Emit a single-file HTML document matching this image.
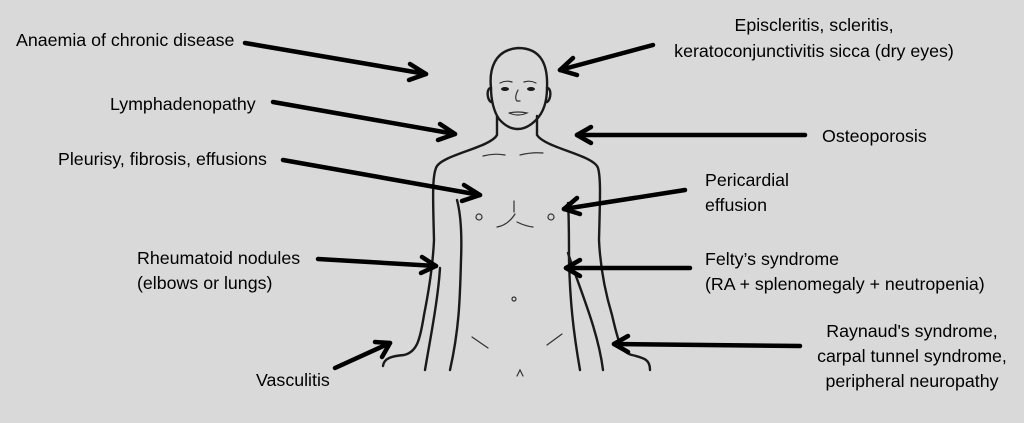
<!DOCTYPE html>
<html><head><meta charset="utf-8"><style>
html,body{margin:0;padding:0;background:#d9d9d9;}
svg{display:block}
text{font-family:"Liberation Sans",sans-serif;font-size:17.8px;fill:#000;}
</style></head><body>
<svg width="1024" height="423" viewBox="0 0 1024 423" xmlns="http://www.w3.org/2000/svg">
<rect width="1024" height="423" fill="#d9d9d9"/>
<g fill="none" stroke="#1a1a1a" stroke-width="2.4" stroke-linecap="round" stroke-linejoin="round">
<path d="M491,88 C489,70 494,50 518,48 C542,48 548,66 547,88 C547,100 544,112 536,120 C530,126 524,129 518,129 C511,129 505,126 499,119 C494,112 491,100 491,88"/>
<path d="M491,88 C486,88 487,100 491,102"/>
<path d="M547,88 C552,88 551,100 547,102"/>
<path d="M497,116 L497,135 C490,148 440,155 436,168 C432,178 433,200 434,240 C433,262 430,285 424,315 C420,340 417,352 404,355 C392,356 384,358 383,366"/>
<path d="M457,200 C461,215 462,235 461,260 C460,300 459,330 450,370"/>
<path d="M440,268 C438,300 430,340 425,370"/>
<path d="M537,116 L537,135 C545,148 594,155 598,168 C601,178 600,200 599,240 C600,262 603,285 612,315 C618,340 620,352 632,355 C645,358 650,360 650,370"/>
<path d="M568,203 C569,215 569,235 569,260 C570,300 573,330 580,370"/>
<path d="M568,253 C580,290 598,330 603,370"/>
</g>
<g fill="none" stroke="#333" stroke-width="1.2" stroke-linecap="round">
<path d="M483,156 Q494,153 505,155"/>
<path d="M520,155 Q532,152 543,153"/>
<path d="M514,201 L514,212"/>
<path d="M497,227 Q508,225 515,214"/>
<path d="M517,222 Q525,226 533,227"/>
<circle cx="479" cy="217" r="3"/>
<circle cx="551" cy="217" r="3"/>
<circle cx="514" cy="299" r="2"/>
<path d="M472,337 L488,348"/>
<path d="M562,334 L547,345"/>
<path d="M517,376 L520,370 L523,376"/>
<path d="M500,83 Q506,80 512,82"/>
<path d="M524,82 Q530,80 536,83"/>
<path d="M518,90 Q514,98 517,101 L520,101"/>
<path d="M509,113 Q518,111 527,113 Q518,117 509,113"/>
</g>
<ellipse cx="505" cy="89" rx="4" ry="2" fill="#1a1a1a"/>
<ellipse cx="531" cy="89" rx="4" ry="2" fill="#1a1a1a"/>
<g fill="none" stroke="#000" stroke-width="4.5" stroke-linecap="round" stroke-linejoin="round">
<path d="M245,43 L426,74"/><path d="M410,64 L426,74 L409,80"/>
<path d="M653,45 L560,70"/><path d="M573,58 L560,70 L577,75"/>
<path d="M273,102 L455,134"/><path d="M440,124 L455,134 L438,140"/>
<path d="M805,135 L577,135"/><path d="M591,127 L577,135 L591,143"/>
<path d="M283,160 L480,195"/><path d="M464,185 L480,195 L462,201"/>
<path d="M685,190 L564,209"/><path d="M577,198 L564,209 L580,214"/>
<path d="M318,259 L436,266"/><path d="M422,257 L436,266 L421,273"/>
<path d="M690,268 L566,268"/><path d="M580,260 L566,268 L580,276"/>
<path d="M335,368 L390,343"/><path d="M375,342 L390,343 L382,357"/>
<path d="M800,346 L614,344"/><path d="M628,336 L614,344 L628,352"/>
</g>
<text x="16" y="46">Anaemia of chronic disease</text>
<text x="110" y="110">Lymphadenopathy</text>
<text x="58" y="165">Pleurisy, fibrosis, effusions</text>
<text x="137" y="264">Rheumatoid nodules</text>
<text x="137" y="289">(elbows or lungs)</text>
<text x="256" y="386">Vasculitis</text>
<text x="814" y="31" text-anchor="middle">Episcleritis, scleritis,</text>
<text x="814" y="57" text-anchor="middle">keratoconjunctivitis sicca (dry eyes)</text>
<text x="822" y="142">Osteoporosis</text>
<text x="705" y="186">Pericardial</text>
<text x="705" y="211">effusion</text>
<text x="705" y="265">Felty’s syndrome</text>
<text x="705" y="290">(RA + splenomegaly + neutropenia)</text>
<text x="912" y="337" text-anchor="middle">Raynaud's syndrome,</text>
<text x="912" y="362" text-anchor="middle">carpal tunnel syndrome,</text>
<text x="912" y="387" text-anchor="middle">peripheral neuropathy</text>
</svg>
</body></html>
